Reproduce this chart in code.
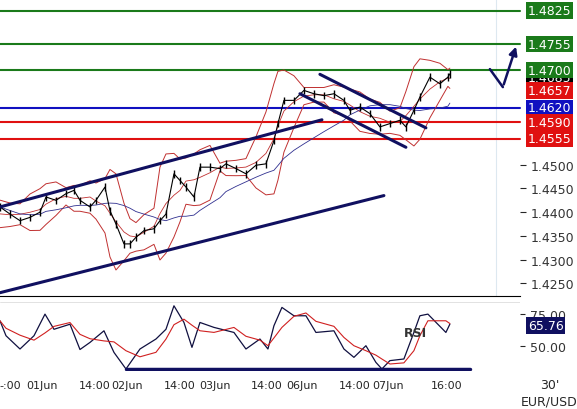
import numpy as np, pandas as pd, matplotlib
matplotlib.use("Agg")
import matplotlib.pyplot as plt, seaborn as sns

sns.set_style("white")
plt.rcParams['font.family'] = ['DejaVu Sans']

# price (bar index, close)
px_bar = [0,5,10,15,20,23,28,33,37,40,45,48,52.5,55,58,62,65,68,72,77,80,83,87,90,93,97,100,105,110,113,118,123,128,133,137,139,142,147,152,157,162,167,172,175,180,185,190,195,200,203,207,210,215,220,224,225]
price = [1.4411,1.4396,1.4382,1.4389,1.4400,1.4432,1.4425,1.4439,1.4446,1.4425,1.4411,1.4425,1.4453,1.4403,1.4375,1.4333,1.4333,1.4347,1.4361,1.4365,1.4382,1.4396,1.4481,1.4467,1.4453,1.4432,1.4495,1.4495,1.4492,1.4502,1.4492,1.4481,1.4499,1.4502,1.4551,1.4587,1.4636,1.4636,1.4657,1.4650,1.4646,1.4650,1.4636,1.4615,1.4622,1.4608,1.4580,1.4587,1.4594,1.4580,1.4615,1.4643,1.4685,1.4671,1.4685,1.4692]
# RSI
rsi_bar = [0,3,10,17,22.5,27,35,40,45,52,57,63,70,78,83,87,92,96,100,107,117,123,130,134,137,141,147,153,158,167,172,177,183,188,191,195,202,207,210,214,223,225]
rsi = [69.7,57.9,47.4,57.9,75,63,67,47,52.6,61.8,44.7,31.6,47.4,55.3,63,81.6,68.4,48.7,68.4,64.5,60.5,47.4,55.3,47.4,65.8,80.3,73.7,73.7,60.5,61.8,47.4,40.8,50,36.8,31.6,38.2,39.5,60.5,73.7,75,60.5,67.1]

levels = [1.4825,1.4755,1.4700,1.4620,1.4590,1.4555]
level_colors = ["#1a7a1a","#1a7a1a","#1a7a1a","#1010c0","#e01010","#e01010"]
tags = [("1.4825","#1a7a1a"),("1.4755","#1a7a1a"),("1.4685","black"),("1.4700","#1a7a1a"),
        ("1.4657","#e01010"),("1.4620","#1010c0"),("1.4590","#e01010"),("1.4555","#e01010")]
ticks = [1.4250,1.4300,1.4350,1.4400,1.4450,1.4500]
xt_pos = [5,21,47.5,63.5,90,107.5,133.5,151,177.5,194,223.5]
xt_lab = ["-:00","01Jun","14:00","02Jun","14:00","03Jun","14:00","06Jun","14:00","07Jun","16:00"]

df = pd.DataFrame({"bar":px_bar,"price":price})
mid = df.price.rolling(5,min_periods=1,center=True).mean()
sd = df.price.rolling(5,min_periods=2,center=True).std().fillna(0.001)
slow = df.price.rolling(12,min_periods=1).mean()

fig = plt.figure(figsize=(5.77,4.10),dpi=100)
ax = fig.add_axes([0.0,0.2756,0.901,0.7244])
ax2 = fig.add_axes([0.0,0.0927,0.901,0.168])

for lv,c in zip(levels,level_colors):
    ax.axhline(lv,color=c,lw=1.5,clip_on=False,zorder=2)
ax.plot(df.bar,mid+2*sd,color="#c03030",lw=0.7)
ax.plot(df.bar,mid-2*sd,color="#c03030",lw=0.7)
ax.plot(df.bar,mid,color="#c03030",lw=0.6)
ax.plot(df.bar,slow,color="#303090",lw=0.6)
sns.lineplot(data=df,x="bar",y="price",color="black",lw=0.8,ax=ax,zorder=4)
ax.vlines(df.bar,df.price-0.0008,df.price+0.0008,color="black",lw=1)
for (x0,y0,x1,y1) in [(0,1.4411,161,1.4595),(0,1.4230,192,1.4435),(160,1.4691,213,1.4578),(150,1.4650,203,1.4537)]:
    ax.plot([x0,x1],[y0,y1],color="#101060",lw=2.2,zorder=5)
ax.plot([245,251.5],[1.4702,1.4664],color="#101060",lw=1.8)
ax.annotate("",xy=(258.5,1.4755),xytext=(251.5,1.4664),
            arrowprops=dict(arrowstyle="-|>",color="#101060",lw=1.8,mutation_scale=12))
ax.set_xlim(0,260); ax.set_ylim(1.4223,1.4850)
ax.yaxis.tick_right()
ax.set_yticks(ticks,[f"{t:.4f}" for t in ticks],fontsize=9,color="#333333")
ax.tick_params(axis="y",length=4,direction="out",right=True)
ax.set_xticks([]); ax.set_xlabel(""); ax.set_ylabel("")
ax.axvline(248,color="#dde8f0",lw=0.8,zorder=0)
for lab,c in tags:
    ax.text(1.015,(float(lab)-1.4223)/(1.4850-1.4223),lab,transform=ax.transAxes,fontsize=9,
            color="white",va="center",ha="left",
            bbox=dict(boxstyle="square,pad=0.15",fc=c,ec="none"))
for s in ["top","left","right"]: ax.spines[s].set_visible(False)
ax.spines["bottom"].set_color("black")

rdf = pd.DataFrame({"bar":rsi_bar,"rsi":rsi})
sns.lineplot(data=rdf,x="bar",y="rsi",color="#101040",lw=0.9,ax=ax2)
ax2.plot(rdf.bar,rdf.rsi.rolling(3,min_periods=1).mean(),color="#d02020",lw=0.8)
ax2.plot([63,235],[31.5,31.5],color="#101060",lw=2.5)
ax2.text(202,58,"RSI",fontsize=9,fontweight="bold",color="#333333")
ax2.set_xlim(0,260); ax2.set_ylim(30,84.5)
ax2.yaxis.tick_right()
ax2.set_yticks([50,75],["50.00","75.00"],fontsize=9,color="#333333")
ax2.text(1.015,(65.76-30)/54.5,"65.76",transform=ax2.transAxes,fontsize=9,color="white",va="center",
         bbox=dict(boxstyle="square,pad=0.15",fc="#101060",ec="none"))
ax2.set_xticks(xt_pos,xt_lab,fontsize=8)
ax2.tick_params(axis="x",length=3)
ax2.set_xlabel(""); ax2.set_ylabel("")
for s in ["top","left","right","bottom"]: ax2.spines[s].set_visible(False)
ax2.axhline(84.5,color="#dddddd",lw=0.6)
fig.text(0.97,0.05,"30'",fontsize=9,ha="right")
fig.text(1.0,0.01,"EUR/USD",fontsize=9,ha="right")
fig.savefig("out.png",dpi=100)
